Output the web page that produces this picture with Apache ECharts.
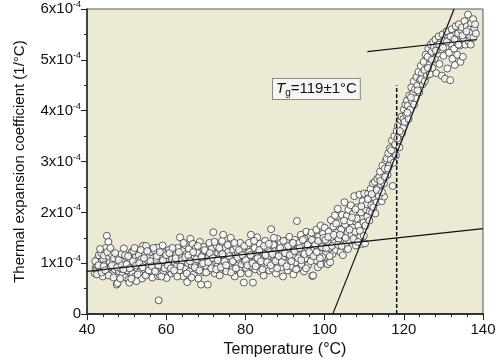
<!DOCTYPE html>
<html>
<head>
<meta charset="utf-8">
<script src="https://cdn.jsdelivr.net/npm/echarts@6/dist/echarts.min.js"></script>
<style>
html,body{margin:0;padding:0;background:#fff;}
#chart{width:502px;height:363px;}
</style>
</head>
<body>
<div id="chart"></div>
<script>
// values in units of 1e-4 per °C
const glassyPts1 = [
[42.0,0.80],[42.2,0.92],[42.4,0.88],[42.6,0.95],[42.8,1.10],[43.0,1.16],[43.2,0.85],[43.4,1.02],[43.6,1.20],[43.8,0.90],
[44.0,0.74],[44.1,1.08],[44.3,1.15],[44.5,0.97],[44.7,1.30],[45.0,1.54],[45.2,0.86],[45.4,1.42],[45.6,1.12],[45.8,1.02],
[46.0,0.93],[46.2,1.18],[46.4,0.80],[46.6,1.05],[46.8,1.10],[47.0,0.88],[47.3,0.98],[47.5,0.58],[47.7,0.61],[47.9,1.12],
[48.1,0.84],[48.3,1.00],[48.5,0.90],[48.7,1.18],[48.9,0.77],[49.1,1.05],[49.3,1.29],[49.5,0.95],[49.7,0.72],[49.9,1.12],
[50.1,0.86],[50.3,1.00],[50.5,0.68],[50.7,0.62],[50.9,1.08],[51.1,0.92],[51.3,1.22],[51.5,0.80],[51.7,1.24],[51.9,0.98],
[52.1,0.74],[52.3,1.12],[52.5,0.65],[52.7,0.90],[52.9,1.04],[53.1,1.16],[53.3,0.82],[53.5,0.96],[53.7,1.08],[53.9,0.70],
[54.1,1.34],[54.3,1.00],[54.5,0.88],[54.7,1.18],[54.9,1.34],[55.1,0.78],[55.3,1.06],[55.5,0.94],[55.7,1.12],[55.9,0.84],
[56.1,1.22],[56.3,1.00],[56.5,0.72],[56.7,1.10],[56.9,0.90],[57.1,1.25],[57.3,0.98],[57.5,1.06],[57.7,1.31],[57.9,0.75],
[58.1,0.27],[58.3,0.78],[58.5,1.14],[58.7,0.92],[58.9,1.02],[59.1,1.35],[59.3,0.84],[59.5,1.20],[59.7,0.96],[59.9,1.10],
[60.1,0.71],[60.3,1.04],[60.5,0.88],[60.7,1.26],[60.9,0.98],[61.1,1.14],[61.3,0.80],[61.5,1.08],[61.7,0.92],[61.9,1.20],
[62.1,1.02],[62.3,0.81],[62.5,1.16],[62.7,0.94],[62.9,1.30],[63.1,1.06],[63.3,0.86],[63.5,1.51],[63.7,1.12],[63.9,0.98],
[64.1,1.24],[64.3,0.74],[64.5,1.04],[64.7,1.36],[64.9,0.90],[65.1,1.18],[65.3,0.63],[65.5,1.00],[65.7,1.28],[65.9,0.84],
[66.1,1.48],[66.3,1.10],[66.5,0.96],[66.7,1.38],[66.9,0.78],[67.1,1.14],[67.3,1.02],[67.5,1.30],[67.7,0.88],[67.9,1.20],
[68.1,0.70],[68.3,1.06],[68.5,1.42],[68.8,0.58],[69.0,0.94],[69.2,1.16],[69.4,1.32],[69.6,0.82],[69.8,1.04],[70.0,1.24]
];
const glassyPts2 = [
[70.2,0.92],[70.5,0.58],[70.7,1.12],[70.9,1.40],[71.1,0.86],[71.3,1.08],[71.5,1.28],[71.7,0.98],[71.9,1.61],[72.1,1.18],
[72.3,0.80],[72.5,1.04],[72.7,1.34],[72.9,0.94],[73.1,1.20],[73.3,1.10],[73.5,0.76],[73.7,1.26],[73.9,1.02],[74.1,1.44],
[74.4,1.56],[74.6,0.90],[74.8,1.14],[75.0,1.30],[75.2,0.84],[75.4,1.06],[75.6,1.22],[75.8,0.96],[76.0,1.38],[76.3,1.50],
[76.5,1.12],[76.7,0.88],[76.9,1.26],[77.1,1.02],[77.3,0.74],[77.5,1.16],[77.7,1.32],[77.9,0.96],[78.1,1.20],[78.3,1.08],
[78.5,0.86],[78.7,1.40],[78.9,1.14],[79.1,0.98],[79.3,1.28],[79.6,0.62],[79.8,1.04],[80.0,1.18],
[80.2,0.90],[80.4,1.34],[80.6,1.10],[80.8,0.80],[81.0,1.22],[81.2,1.02],[81.4,1.56],[81.6,0.94],[81.9,0.62],[82.1,1.16],
[82.3,1.30],[82.5,0.88],[82.7,1.08],[83.0,1.51],[83.2,1.20],[83.4,0.98],[83.6,1.38],[83.8,0.84],[84.0,1.12],[84.2,1.26],
[84.4,1.00],[84.6,0.76],[84.8,1.18],[85.0,1.44],[85.2,1.06],[85.4,0.92],[85.6,1.30],[85.8,1.14],[86.0,0.86],[86.2,1.22],
[86.5,1.67],[86.7,1.02],[86.9,0.89],[87.1,1.36],[87.3,1.10],[87.5,1.24],[87.7,0.80],[87.9,1.16],[88.1,1.48],[88.3,0.96],
[88.5,1.28],[88.7,1.06],[88.9,1.40],[89.1,0.92],[89.3,1.20],[89.5,0.74],[89.7,1.12],[89.9,1.32],
[90.1,1.00],[90.3,1.44],[90.5,1.18],[90.7,0.86],[90.9,1.26],[91.1,1.52],[91.3,1.08],[91.5,0.94],[91.7,1.36],[91.9,1.20],
[92.1,0.78],[92.3,1.14],[92.5,1.46],[92.7,1.02],[93.0,1.83],[93.2,1.28],[93.4,0.90],[93.6,1.40],[93.8,1.16],[94.0,1.56],
[94.2,0.98],[94.4,1.32],[94.6,1.22],[94.8,0.84],[95.0,1.48],[95.2,1.10],[95.4,1.62],[95.6,1.30],[95.8,0.96],[96.0,1.40],
[96.2,1.18],[96.4,1.54],[96.7,1.60],[96.9,0.75],[97.1,0.76],[97.3,1.26],[97.5,1.44],[97.7,1.06],[97.9,1.66],[98.1,1.34],
[98.3,0.92],[98.5,1.52],[98.7,1.20],[99.0,0.98],[99.0,1.74],[99.2,1.40],[99.4,1.12],[99.6,1.58],[99.8,1.30],[100.0,1.70]
];
const glassyPts3 = [
[42.1,1.04],[42.5,0.78],[42.9,0.96],[43.3,1.28],[43.7,0.82],[44.2,0.94],[44.6,0.86],[45.1,1.22],[45.5,0.76],[45.9,1.30],
[46.3,0.96],[46.7,0.72],[47.1,1.20],[47.6,0.92],[48.0,1.06],[48.4,0.70],[48.8,0.96],[49.2,0.88],[49.6,1.16],[50.0,0.98],
[50.4,1.14],[50.8,0.90],[51.2,0.70],[51.6,1.04],[52.0,1.30],[52.4,0.96],[52.8,0.78],[53.2,1.00],[53.6,1.26],[54.0,0.92],
[54.4,1.10],[54.8,0.76],[55.2,1.24],[55.6,0.86],[56.0,1.04],[56.4,0.94],[56.8,1.30],[57.2,0.84],[57.6,1.14],[58.0,0.96],
[58.4,1.22],[58.8,0.74],[59.2,1.06],[59.6,0.90],[60.0,1.16],
[60.4,0.96],[60.8,1.20],[61.2,0.90],[61.6,1.30],[62.0,0.86],[62.4,1.10],[62.8,0.74],[63.2,1.22],[63.6,0.94],[64.0,1.06],
[64.4,1.40],[64.8,1.12],[65.2,0.80],[65.6,1.16],[66.0,1.04],[66.4,0.72],[66.8,1.22],[67.2,0.92],[67.6,1.08],[68.0,1.34],
[68.4,0.86],[68.9,1.12],[69.3,1.00],[69.7,1.26],[70.1,0.82],[70.6,1.02],[71.0,1.20],[71.4,0.90],[71.8,1.10],[72.2,1.42],
[72.6,0.88],[73.0,1.06],[73.4,1.30],[73.8,0.92],[74.2,1.18],[74.7,1.04],[75.1,0.96],[75.5,1.36],[75.9,1.14],[76.4,0.82],
[76.8,1.04],[77.2,1.40],[77.6,0.90],[78.0,1.12],[78.4,1.26],[78.8,0.80],[79.2,1.16],[79.7,1.34],
[80.1,1.06],[80.5,0.96],[80.9,1.40],[81.3,1.16],[81.8,1.00],[82.2,1.44],[82.6,0.94],[83.1,1.10],[83.5,1.26],[83.9,1.04],
[84.3,0.88],[84.7,1.34],[85.1,1.16],[85.5,1.02],[85.9,1.38],[86.4,0.96],[86.8,1.18],[87.2,1.50],[87.6,1.04],[88.0,0.90],
[88.4,1.14],[88.8,1.30],[89.2,1.02],[89.6,1.44],[90.0,1.20],[90.4,0.94],[90.8,1.34],[91.2,1.16],[91.6,1.04],[92.0,1.40],
[92.4,1.24],[92.8,0.88],[93.3,1.10],[93.7,1.30],[94.1,1.06],[94.5,1.46],[94.9,1.18],[95.3,0.90],[95.7,1.36],[96.1,1.22],
[96.5,1.04],[96.8,1.46],[97.2,1.14],[97.6,1.36],[98.0,1.22],[98.4,1.44],[98.8,1.10],[99.3,1.32],[99.7,1.50]
];
const transitionPts = [
[100.2,1.46],[100.5,1.00],[100.8,0.98],[101.0,1.62],[101.2,1.30],[101.4,1.02],[101.6,1.85],[101.8,1.50],[102.0,1.18],[102.2,1.72],
[102.4,1.40],[102.6,1.94],[102.8,1.26],[103.0,1.60],[103.3,2.07],[103.5,1.48],[103.7,1.80],[104.0,1.22],[104.2,1.66],[104.4,1.95],
[104.6,1.16],[104.8,1.54],[105.0,2.20],[105.2,1.76],[105.4,1.38],[105.6,1.93],[105.8,1.60],[106.0,2.05],[106.2,1.44],[106.4,1.82],
[106.6,2.14],[106.8,1.56],[107.0,1.70],[107.2,1.98],[107.5,2.32],[107.7,1.62],[107.9,1.35],[108.1,1.88],[108.3,2.10],[108.5,1.74],
[108.8,2.35],[109.0,1.52],[109.2,2.00],[109.4,1.38],[109.6,2.22],[109.8,1.80],[110.0,2.37],
[110.2,1.39],[110.4,2.06],[110.6,2.16],[110.8,1.92],[111.0,2.37],[111.2,2.28],[111.4,2.02],[111.6,2.46],[111.8,2.14],[112.0,2.00],
[112.2,2.57],[112.4,2.30],[112.7,2.60],[112.9,2.38],[113.1,2.20],[113.3,2.66],[113.5,2.48],[113.8,2.70],[114.0,2.80],[114.2,2.55],
[114.4,2.22],[114.6,2.92],[114.8,2.64],[115.0,2.31],[115.0,2.57],[115.2,2.86],[115.5,3.02],[115.7,3.06],[115.9,2.74],[116.1,3.16],
[116.3,2.92],[116.5,3.26],[116.7,3.04],[117.0,3.41],[117.2,2.52],[117.4,3.20],[117.6,3.50],[117.8,3.34],[118.0,3.12],[118.2,3.60],
[118.5,3.70],[118.7,3.42],[118.9,3.28],[119.1,3.82],[119.4,3.88],[119.6,3.56],[119.8,3.66],[120.0,4.02],
[100.4,1.30],[100.9,1.52],[101.3,1.14],[101.9,1.34],[102.3,1.56],[102.9,1.78],[103.4,1.36],[103.9,1.56],[104.3,1.34],[104.9,1.84],
[105.3,1.50],[105.9,1.28],[106.3,1.66],[106.9,1.90],[107.3,1.48],[107.8,2.06],[108.4,1.42],[108.9,1.64],[109.3,2.12],[109.9,1.54],
[110.3,1.74],[110.9,2.26],[111.3,1.84],[111.9,2.36],[112.3,2.10],[112.8,1.98],[113.2,2.44],[113.7,2.32],[114.1,2.62],[114.5,2.40],
[115.3,2.70],[116.0,2.86],[116.8,3.22],[117.5,2.98],[118.4,3.46],[119.0,3.60],[119.9,3.84]
];
const rubberyPts = [
[120.2,3.78],[120.4,4.12],[120.6,3.92],[120.8,4.20],[121.0,4.10],[121.2,3.84],[121.4,4.30],[121.6,4.02],[121.9,4.46],[122.1,4.18],
[122.3,4.34],[122.5,4.58],[122.8,4.42],[123.0,4.24],[123.2,4.66],[123.4,4.50],[123.7,4.76],[123.9,4.36],[124.1,4.60],[124.3,4.88],
[124.6,4.73],[124.8,4.52],[125.0,4.96],[125.2,4.80],[125.5,5.10],[125.7,4.68],[126.0,5.06],[126.2,5.22],[126.4,4.90],[126.6,4.72],
[126.8,5.30],[127.0,5.16],[127.2,4.84],[127.4,5.35],[127.6,5.24],[127.8,5.02],
[128.0,5.40],[128.2,4.74],[128.4,5.28],[128.6,5.12],[128.8,5.46],[129.0,4.92],[129.2,5.34],[129.4,5.20],[129.6,4.69],[129.8,5.50],
[130.0,5.08],[130.2,5.38],[130.4,4.63],[130.6,5.26],[130.8,5.56],[131.0,4.83],[131.2,5.44],[131.4,5.14],[131.7,4.60],[131.9,5.32],
[132.1,5.60],[132.3,5.02],[132.5,5.48],[132.7,5.22],[132.9,4.90],[133.1,5.66],[133.3,5.36],[133.5,5.10],[133.7,5.52],[133.9,5.70],
[134.1,5.28],[134.3,4.96],[134.5,5.58],[134.7,5.64],[134.9,5.06],[135.1,5.42],[135.3,5.76],[135.5,5.30],[135.7,5.50],[135.9,5.66],
[136.2,5.89],[136.4,5.36],[136.6,5.60],[136.8,5.46],[137.0,5.72],[137.2,5.54],[137.5,5.80],[137.8,5.62],[138.0,5.70],
[120.9,3.96],[121.8,4.26],[122.6,4.12],[123.5,4.40],[124.4,4.62],[125.3,4.58],[126.1,4.84],[127.1,5.00],[128.1,5.18],[128.9,5.30],
[129.9,5.24],[130.9,5.36],[131.8,5.46],[132.8,5.40],[133.8,5.30],[134.8,5.48],[135.8,5.56],[136.9,5.30],[137.6,5.44],[138.2,5.52]
];
// fitted lines (end points)
const glassyFit = [[40,0.84],[140,1.68]];
const transitionFit = [[102.05,0],[132.7,6]];
const rubberyFit = [[110.8,5.16],[138.4,5.40]];
const tgMarker = [[118.2,0],[118.2,4.5]];
const xRange = {min:40, max:140, step:20};
const yRange = {min:0, max:6, step:1};
const tgLabel = '{i|T}{sub|g}{n|=119±1°C}';

const FONT = '"Liberation Sans", Arial, sans-serif';
const chart = echarts.init(document.getElementById('chart'), null, {renderer:'canvas'});
const scatterStyle = {color:'#ffffff', borderColor:'#3a3a3a', borderWidth:1};
function scatterSeries(data){
  return {type:'scatter', data:data, symbolSize:7, itemStyle:scatterStyle, z:3, silent:true};
}
function lineSeries(data, extra){
  return Object.assign({type:'line', data:data, showSymbol:false, symbol:'none', silent:true, z:5,
    lineStyle:{color:'#111', width:1.2}, animation:false}, extra||{});
}
chart.setOption({
  animation:false,
  backgroundColor:'#ffffff',
  grid:{left:87, right:19, top:9, bottom:43, show:true, backgroundColor:'#ECE9D5', borderColor:'#555', borderWidth:1},
  xAxis:[{
    type:'value', min:xRange.min, max:xRange.max, interval:xRange.step,
    name:'Temperature (°C)', nameLocation:'middle', nameGap:27,
    nameTextStyle:{fontFamily:FONT, fontSize:16, color:'#111'},
    axisLine:{show:true, onZero:false, lineStyle:{color:'#222', width:1.5}},
    axisTick:{show:true, length:6, lineStyle:{color:'#222', width:1}},
    minorTick:{show:true, splitNumber:5, length:3, lineStyle:{color:'#222', width:1}},
    axisLabel:{fontFamily:FONT, fontSize:15, color:'#111', margin:8},
    splitLine:{show:false}
  },{
    type:'value', position:'top', min:xRange.min, max:xRange.max,
    axisLine:{show:true, lineStyle:{color:'#333', width:2}},
    axisTick:{show:false}, axisLabel:{show:false}, splitLine:{show:false}
  }],
  yAxis:{
    type:'value', min:yRange.min, max:yRange.max, interval:yRange.step,
    name:'Thermal expansion coefficient (1/°C)', nameLocation:'middle', nameGap:60,
    nameTextStyle:{fontFamily:FONT, fontSize:15, color:'#111'},
    axisLine:{show:true, onZero:false, lineStyle:{color:'#222', width:1.5}},
    axisTick:{show:true, length:6, lineStyle:{color:'#222', width:1}},
    minorTick:{show:true, splitNumber:2, length:3, lineStyle:{color:'#222', width:1}},
    axisLabel:{
      margin:6,
      formatter:function(v){ return v===0 ? '{a|0}' : '{a|'+v+'x10}{s|-4}'; },
      rich:{
        a:{fontFamily:FONT, fontSize:15, color:'#111', lineHeight:18, verticalAlign:'middle'},
        s:{fontFamily:FONT, fontSize:9, color:'#111', lineHeight:10, verticalAlign:'top'}
      }
    },
    splitLine:{show:false}
  },
  series:[
    scatterSeries(glassyPts1),
    scatterSeries(glassyPts2),
    scatterSeries(glassyPts3),
    scatterSeries(transitionPts),
    scatterSeries(rubberyPts),
    lineSeries(glassyFit),
    lineSeries(transitionFit),
    lineSeries(rubberyFit),
    lineSeries(tgMarker, {lineStyle:{color:'#111', width:1.5, type:[4,2]}})
  ],
  graphic:[{
    type:'text', left:272, top:78, z:10,
    style:{
      text:tgLabel,
      backgroundColor:'#f6f6f4', borderColor:'#8a8a8a', borderWidth:1,
      padding:[1,3,1,3],
      rich:{
        i:{fontFamily:FONT, fontSize:15, fontStyle:'italic', fill:'#111', lineHeight:18, verticalAlign:'middle'},
        sub:{fontFamily:FONT, fontSize:10, fill:'#111', lineHeight:10, verticalAlign:'bottom'},
        n:{fontFamily:FONT, fontSize:15, fill:'#111', lineHeight:18, verticalAlign:'middle'}
      }
    }
  }]
});
</script>
</body>
</html>
